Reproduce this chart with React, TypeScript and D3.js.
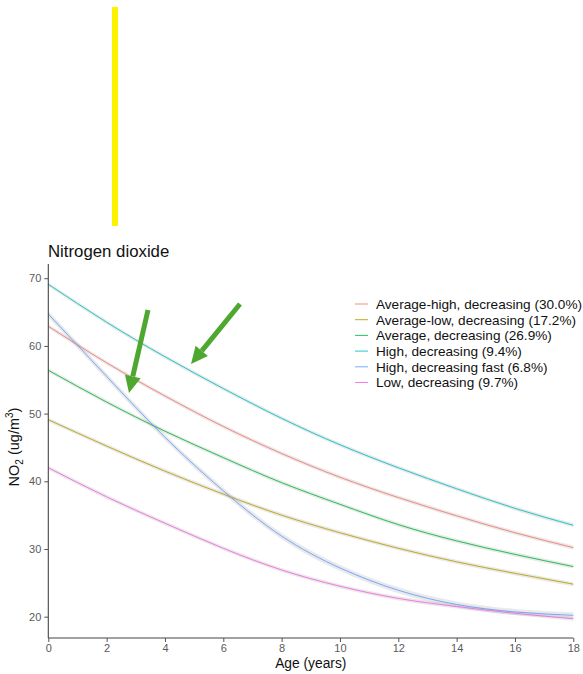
import {useEffect, useRef} from 'react';
import * as d3 from 'd3';

// data
const ages = [0, 2, 4, 6, 8, 10, 12, 14, 16, 18];
const groups = [
  'Average-high, decreasing (30.0%)',
  'Average-low, decreasing (17.2%)',
  'Average, decreasing (26.9%)',
  'High, decreasing (9.4%)',
  'High, decreasing fast (6.8%)',
  'Low, decreasing (9.7%)',
];
const colors = ['#F8766D', '#B79F00', '#00BA38', '#00BFC4', '#619CFF', '#F564E3'];
const avgHigh = [62.9, 57.5, 52.6, 48.1, 44.1, 40.6, 37.6, 34.9, 32.4, 30.2];
const avgLow = [49.1, 45.2, 41.5, 38.1, 35.0, 32.4, 30.1, 28.1, 26.4, 24.8];
const average = [56.4, 51.7, 47.4, 43.5, 39.8, 36.6, 33.6, 31.2, 29.2, 27.4];
const high = [69.1, 63.5, 58.4, 53.7, 49.3, 45.4, 42.0, 38.9, 36.0, 33.5];
const highFast = [64.7, 55.5, 46.5, 38.6, 31.9, 27.2, 23.9, 21.8, 20.7, 20.2];
const low = [42.0, 37.7, 33.8, 30.1, 26.9, 24.5, 22.7, 21.5, 20.5, 19.7];
const seriesValues = [avgHigh, avgLow, average, high, highFast, low];
const bandHalf = [0.3, 0.3, 0.3, 0.3, 0.45, 0.3];
const xTicks = [0, 2, 4, 6, 8, 10, 12, 14, 16, 18];
const yTicks = [20, 30, 40, 50, 60, 70];

// layout
const width = 583;
const height = 674;
const left = 48.3;
const right = 573.3;
const top = 264;
const bottom = 638;
const font = 'Liberation Sans, Arial, sans-serif';

export default function App() {
  const ref = useRef(null);
  useEffect(() => {
    if (!ref.current)
      return;
    document.body.style.margin = '0';
    const svg = d3.select(ref.current);
    svg.selectAll('*').remove();

    const x = d3.scaleLinear().domain([0, 18]).range([left, right]);
    const y = d3.scaleLinear().domain([16.85, 72.1]).range([bottom, top]);

    // confidence ribbons
    seriesValues.forEach((vals, i) => {
      const area = d3.area<number>()
        .x((d, j) => x(ages[j]))
        .y0(d => y(d - bandHalf[i]))
        .y1(d => y(d + bandHalf[i]))
        .curve(d3.curveNatural);
      svg.append('path')
        .attr('d', area(vals))
        .attr('fill', '#999')
        .attr('fill-opacity', 0.22);
    });

    // lines
    seriesValues.forEach((vals, i) => {
      const line = d3.line<number>()
        .x((d, j) => x(ages[j]))
        .y(d => y(d))
        .curve(d3.curveNatural);
      svg.append('path')
        .attr('d', line(vals))
        .attr('fill', 'none')
        .attr('stroke', colors[i])
        .attr('stroke-opacity', 0.85)
        .attr('stroke-width', 1);
    });

    // axes
    const xAxis = svg.append('g')
      .attr('transform', `translate(0,${bottom})`)
      .call(d3.axisBottom(x).tickValues(xTicks).tickSize(4).tickPadding(2));
    const yAxis = svg.append('g')
      .attr('transform', `translate(${left},0)`)
      .call(d3.axisLeft(y).tickValues(yTicks).tickSize(4).tickPadding(3));
    [xAxis, yAxis].forEach(a => {
      a.select('.domain').remove();
      a.selectAll('line').attr('stroke', '#555');
      a.selectAll('text')
        .attr('fill', '#5a5a5a')
        .style('font-family', font)
        .style('font-size', '11px');
    });
    svg.append('line')
      .attr('x1', left).attr('x2', right)
      .attr('y1', bottom).attr('y2', bottom)
      .attr('stroke', '#444').attr('stroke-width', 1.1);
    svg.append('line')
      .attr('x1', left).attr('x2', left)
      .attr('y1', top).attr('y2', bottom)
      .attr('stroke', '#444').attr('stroke-width', 1.1);

    // titles
    svg.append('text')
      .attr('x', 48).attr('y', 256.5)
      .style('font-family', font).style('font-size', '16.8px')
      .attr('fill', '#111')
      .text('Nitrogen dioxide');
    svg.append('text')
      .attr('x', (left + right) / 2).attr('y', 668)
      .attr('text-anchor', 'middle')
      .style('font-family', font).style('font-size', '13.8px')
      .attr('fill', '#111')
      .text('Age (years)');
    const yt = svg.append('text')
      .attr('transform', `translate(19,${(top + bottom) / 2 - 4}) rotate(-90)`)
      .attr('text-anchor', 'middle')
      .style('font-family', font).style('font-size', '14.5px')
      .attr('fill', '#111');
    yt.append('tspan').text('NO');
    yt.append('tspan').attr('dy', 3.5).style('font-size', '10px').text('2');
    yt.append('tspan').attr('dy', -3.5).text(' (ug/m');
    yt.append('tspan').attr('dy', -6).style('font-size', '10px').text('3');
    yt.append('tspan').attr('dy', 6).text(')');

    // legend
    const legend = svg.append('g').attr('transform', 'translate(355,304)');
    groups.forEach((g, i) => {
      const row = legend.append('g').attr('transform', `translate(0,${i * 15.7})`);
      row.append('line')
        .attr('x1', 0).attr('x2', 13)
        .attr('stroke', colors[i]).attr('stroke-opacity', 0.85).attr('stroke-width', 1);
      row.append('text')
        .attr('x', 21).attr('y', 4.8)
        .style('font-family', font).style('font-size', '13.6px')
        .attr('fill', '#111')
        .text(g);
    });

    // annotations: yellow bar and green arrows
    svg.append('rect')
      .attr('x', 112).attr('y', 7)
      .attr('width', 6).attr('height', 219)
      .attr('fill', '#fff200');
    const arrow = (x1: number, y1: number, x2: number, y2: number) => {
      const ang = Math.atan2(y2 - y1, x2 - x1);
      const headLen = 17, headW = 8;
      const bx = x2 - headLen * Math.cos(ang), by = y2 - headLen * Math.sin(ang);
      svg.append('line')
        .attr('x1', x1).attr('y1', y1).attr('x2', bx).attr('y2', by)
        .attr('stroke', '#4ea72e').attr('stroke-width', 5);
      const px = -Math.sin(ang) * headW, py = Math.cos(ang) * headW;
      svg.append('path')
        .attr('d', `M${x2},${y2}L${bx + px},${by + py}L${bx - px},${by - py}Z`)
        .attr('fill', '#4ea72e');
    };
    arrow(148, 310, 129, 393);
    arrow(240, 304, 191, 364);
  }, [ref]);
  return <svg ref={ref} width={width} height={height} style={{display: 'block'}} />;
}
